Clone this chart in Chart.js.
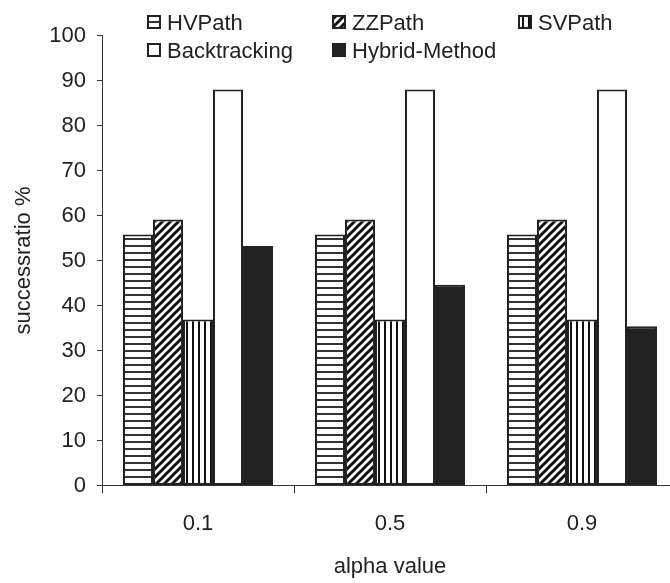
<!DOCTYPE html>
<html>
<head>
<meta charset="utf-8">
<script src="https://cdn.jsdelivr.net/npm/chart.js@4/dist/chart.umd.min.js"></script>
<style>
html, body { margin: 0; padding: 0; background: #fff; overflow: hidden; }
#wrap { position: relative; width: 678px; height: 583px; }
</style>
</head>
<body>
<div id="wrap"><canvas id="chart"></canvas></div>
<script>
var alphaValues = ["0.1", "0.5", "0.9"];
var hvPath = [55.8, 55.8, 55.8];
var zzPath = [59.1, 59.1, 59.1];
var svPath = [36.9, 36.9, 36.9];
var backtracking = [88, 88, 88];
var hybridMethod = [53.2, 44.6, 35.4];
var yTicks = [0, 10, 20, 30, 40, 50, 60, 70, 80, 90, 100];

var ink = "#222";
var fontFamily = "'Liberation Sans', Arial, sans-serif";
var fontSize = 22;

function makePattern(w, h, draw) {
    var c = document.createElement("canvas");
    c.width = w;
    c.height = h;
    var g = c.getContext("2d");
    g.fillStyle = "#fff";
    g.fillRect(0, 0, w, h);
    draw(g);
    return g.createPattern(c, "repeat");
}

var hvFill = makePattern(8, 7, function(g) {
    g.fillStyle = "#333";
    g.fillRect(0, 0, 8, 2);
});
var zzFill = makePattern(8, 8, function(g) {
    g.strokeStyle = "#111";
    g.lineWidth = 3;
    g.beginPath();
    g.moveTo(-2, 10); g.lineTo(10, -2);
    g.moveTo(-6, 6); g.lineTo(6, -6);
    g.moveTo(2, 14); g.lineTo(14, 2);
    g.stroke();
});
var svFill = makePattern(6, 4, function(g) {
    g.fillStyle = "#111";
    g.fillRect(0, 0, 2, 4);
});

var seriesNames = ["HVPath", "ZZPath", "SVPath", "Backtracking", "Hybrid-Method"];
var seriesData = [hvPath, zzPath, svPath, backtracking, hybridMethod];
var seriesFill = [hvFill, zzFill, svFill, "#fff", ink];

var datasets = [];
for (var i = 0; i < seriesNames.length; i++) {
    datasets.push({
        label: seriesNames[i],
        data: seriesData[i],
        backgroundColor: seriesFill[i],
        borderColor: ink,
        borderWidth: 2,
        borderSkipped: false
    });
}

// legend laid out in fixed columns like the original
var legendSpots = [[147, 30], [332, 30], [518, 30], [147, 58], [332, 58]];
var gridLegend = {
    id: "gridLegend",
    afterDraw: function(chart) {
        var ctx = chart.ctx;
        ctx.save();
        ctx.font = fontSize + "px " + fontFamily;
        ctx.textBaseline = "alphabetic";
        ctx.textAlign = "left";
        chart.data.datasets.forEach(function(ds, k) {
            var x = legendSpots[k][0], y = legendSpots[k][1];
            ctx.fillStyle = ds.backgroundColor;
            ctx.fillRect(x, y - 15, 14, 14);
            ctx.strokeStyle = ink;
            ctx.lineWidth = 2;
            ctx.strokeRect(x + 1, y - 14, 12, 12);
            ctx.fillStyle = ink;
            ctx.fillText(ds.label, x + 20, y);
        });
        ctx.restore();
    }
};

var ctx = document.getElementById("chart");
var myChart = new Chart(ctx, {
    type: "bar",
    data: { labels: alphaValues, datasets: datasets },
    options: {
        responsive: true,
        maintainAspectRatio: false,
        animation: false,
        layout: { padding: { top: 35.5, left: 0, right: 0, bottom: 0 } },
        plugins: { legend: { display: false }, tooltip: { enabled: false } },
        datasets: { bar: { categoryPercentage: 0.78125, barPercentage: 1 } },
        scales: {
            x: {
                grid: { drawOnChartArea: false, offset: true, tickLength: 8, color: "#333", lineWidth: 1 },
                border: { color: "#333", width: 1 },
                ticks: { color: ink, font: { size: fontSize, family: fontFamily }, padding: 17 },
                title: { display: true, text: "alpha value", color: ink, font: { size: fontSize, family: fontFamily }, padding: { top: 0, bottom: 3 } },
                afterFit: function(scale) { scale.height = 97.5; }
            },
            y: {
                min: 0,
                max: 100,
                afterBuildTicks: function(scale) {
                    scale.ticks = yTicks.map(function(v) { return { value: v }; });
                },
                grid: { drawOnChartArea: false, tickLength: 5, color: "#333", lineWidth: 1 },
                border: { color: "#333", width: 1 },
                ticks: { color: ink, font: { size: fontSize, family: fontFamily }, padding: 11 },
                title: { display: true, text: "successratio %", color: ink, font: { size: fontSize, family: fontFamily }, padding: { top: 11, bottom: 0 } },
                afterFit: function(scale) { scale.width = 102; }
            }
        }
    },
    plugins: [gridLegend]
});
</script>
</body>
</html>
